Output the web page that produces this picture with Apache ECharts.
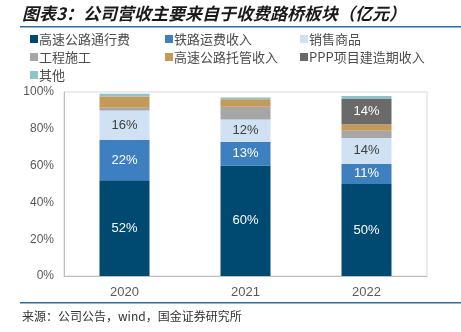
<!DOCTYPE html>
<html><head><meta charset="utf-8">
<script src="https://cdn.jsdelivr.net/npm/echarts@6/dist/echarts.min.js"></script>
<style>html,body{margin:0;padding:0;background:#fff}#c{width:461px;height:332px}</style>
</head><body><div id="c"></div>
<script>
const categories = ['2020', '2021', '2022'];
const seriesNames = ['高速公路通行费', '铁路运费收入', '销售商品', '工程施工', '高速公路托管收入', 'PPP项目建造期收入', '其他'];
const tollFees = [52, 60, 50];
const railFreight = [22, 13, 11];
const goodsSales = [16, 12, 14];
const construction = [1.5, 7, 4];
const trustIncome = [6, 4, 3.5];
const pppIncome = [0, 0, 14];
const others = [1.5, 1, 1.3];
const yTicks = ['0%', '20%', '40%', '60%', '80%', '100%'];

const values = [tollFees, railFreight, goodsSales, construction, trustIncome, pppIncome, others];
const colors = ['#004a72', '#3e7fc0', '#cfe1f2', '#a6a6a6', '#c39a5a', '#6a6a6a', '#8cc4ca'];
const labelColors = ['#ffffff', '#ffffff', '#404040', '#404040', '#404040', '#ffffff', '#404040'];

const chart = echarts.init(document.getElementById('c'), null, {renderer: 'canvas'});
const font = '"Liberation Sans", Arial, "Noto Sans CJK SC", sans-serif';
const legendText = {color: '#4d4d4d', fontSize: 13, fontFamily: '"Noto Sans CJK SC", sans-serif', lineHeight: 14, padding: [0, 0, 0, -4]};
function legend(left, names) {
  return {orient: 'vertical', left: left, top: 32, itemWidth: 8, itemHeight: 8, itemGap: 4,
    icon: 'rect', padding: 0, data: names, textStyle: legendText, selectedMode: false};
}
chart.setOption({
  animation: false,
  graphic: [
    {type: 'text', left: 22, top: 5, style: {text: '图表3：公司营收主要来自于收费路桥板块（亿元）', fill: '#1a1a1a',
      font: 'italic 600 17px "Noto Sans CJK SC", sans-serif'}},
    {type: 'rect', shape: {x: 20, y: 26, width: 441, height: 1.5}, style: {fill: '#2e6e9e'}},
    {type: 'rect', shape: {x: 20, y: 302, width: 441, height: 1.5}, style: {fill: '#2e6e9e'}},
    {type: 'text', left: 22, top: 310, style: {text: '来源：公司公告，wind，国金证券研究所', fill: '#333',
      font: '12px "Noto Sans CJK SC", "DejaVu Sans Mono", monospace'}}
  ],
  legend: [
    legend(30, [seriesNames[0], seriesNames[3], seriesNames[6]]),
    legend(165, [seriesNames[1], seriesNames[4]]),
    legend(300, [seriesNames[2], seriesNames[5]])
  ],
  grid: {left: 64, right: 34, top: 92, bottom: 56, show: true, borderColor: '#d9d9d9', borderWidth: 1},
  xAxis: {type: 'category', data: categories,
    axisLine: {lineStyle: {color: '#bfbfbf'}},
    axisTick: {inside: true, length: 3, lineStyle: {color: '#d9d9d9'}},
    axisLabel: {color: '#595959', fontSize: 13, fontFamily: font, margin: 10}},
  yAxis: {type: 'value', min: 0, max: 100, interval: 20,
    axisLine: {show: true, lineStyle: {color: '#bfbfbf'}},
    axisTick: {show: false},
    splitLine: {show: false},
    axisLabel: {color: '#595959', fontSize: 12, fontFamily: font, margin: 10,
      formatter: function (v) { return yTicks[Math.round(v / 20)]; }}},
  series: values.map(function (d, i) {
    return {name: seriesNames[i], type: 'bar', stack: 'total', barWidth: 50, data: d,
      itemStyle: {color: colors[i]},
      label: {show: true, position: 'inside', color: labelColors[i], fontSize: 13, fontFamily: font,
        formatter: function (p) { return p.value >= 10 ? Math.round(p.value) + '%' : ''; }}};
  })
});
</script></body></html>
